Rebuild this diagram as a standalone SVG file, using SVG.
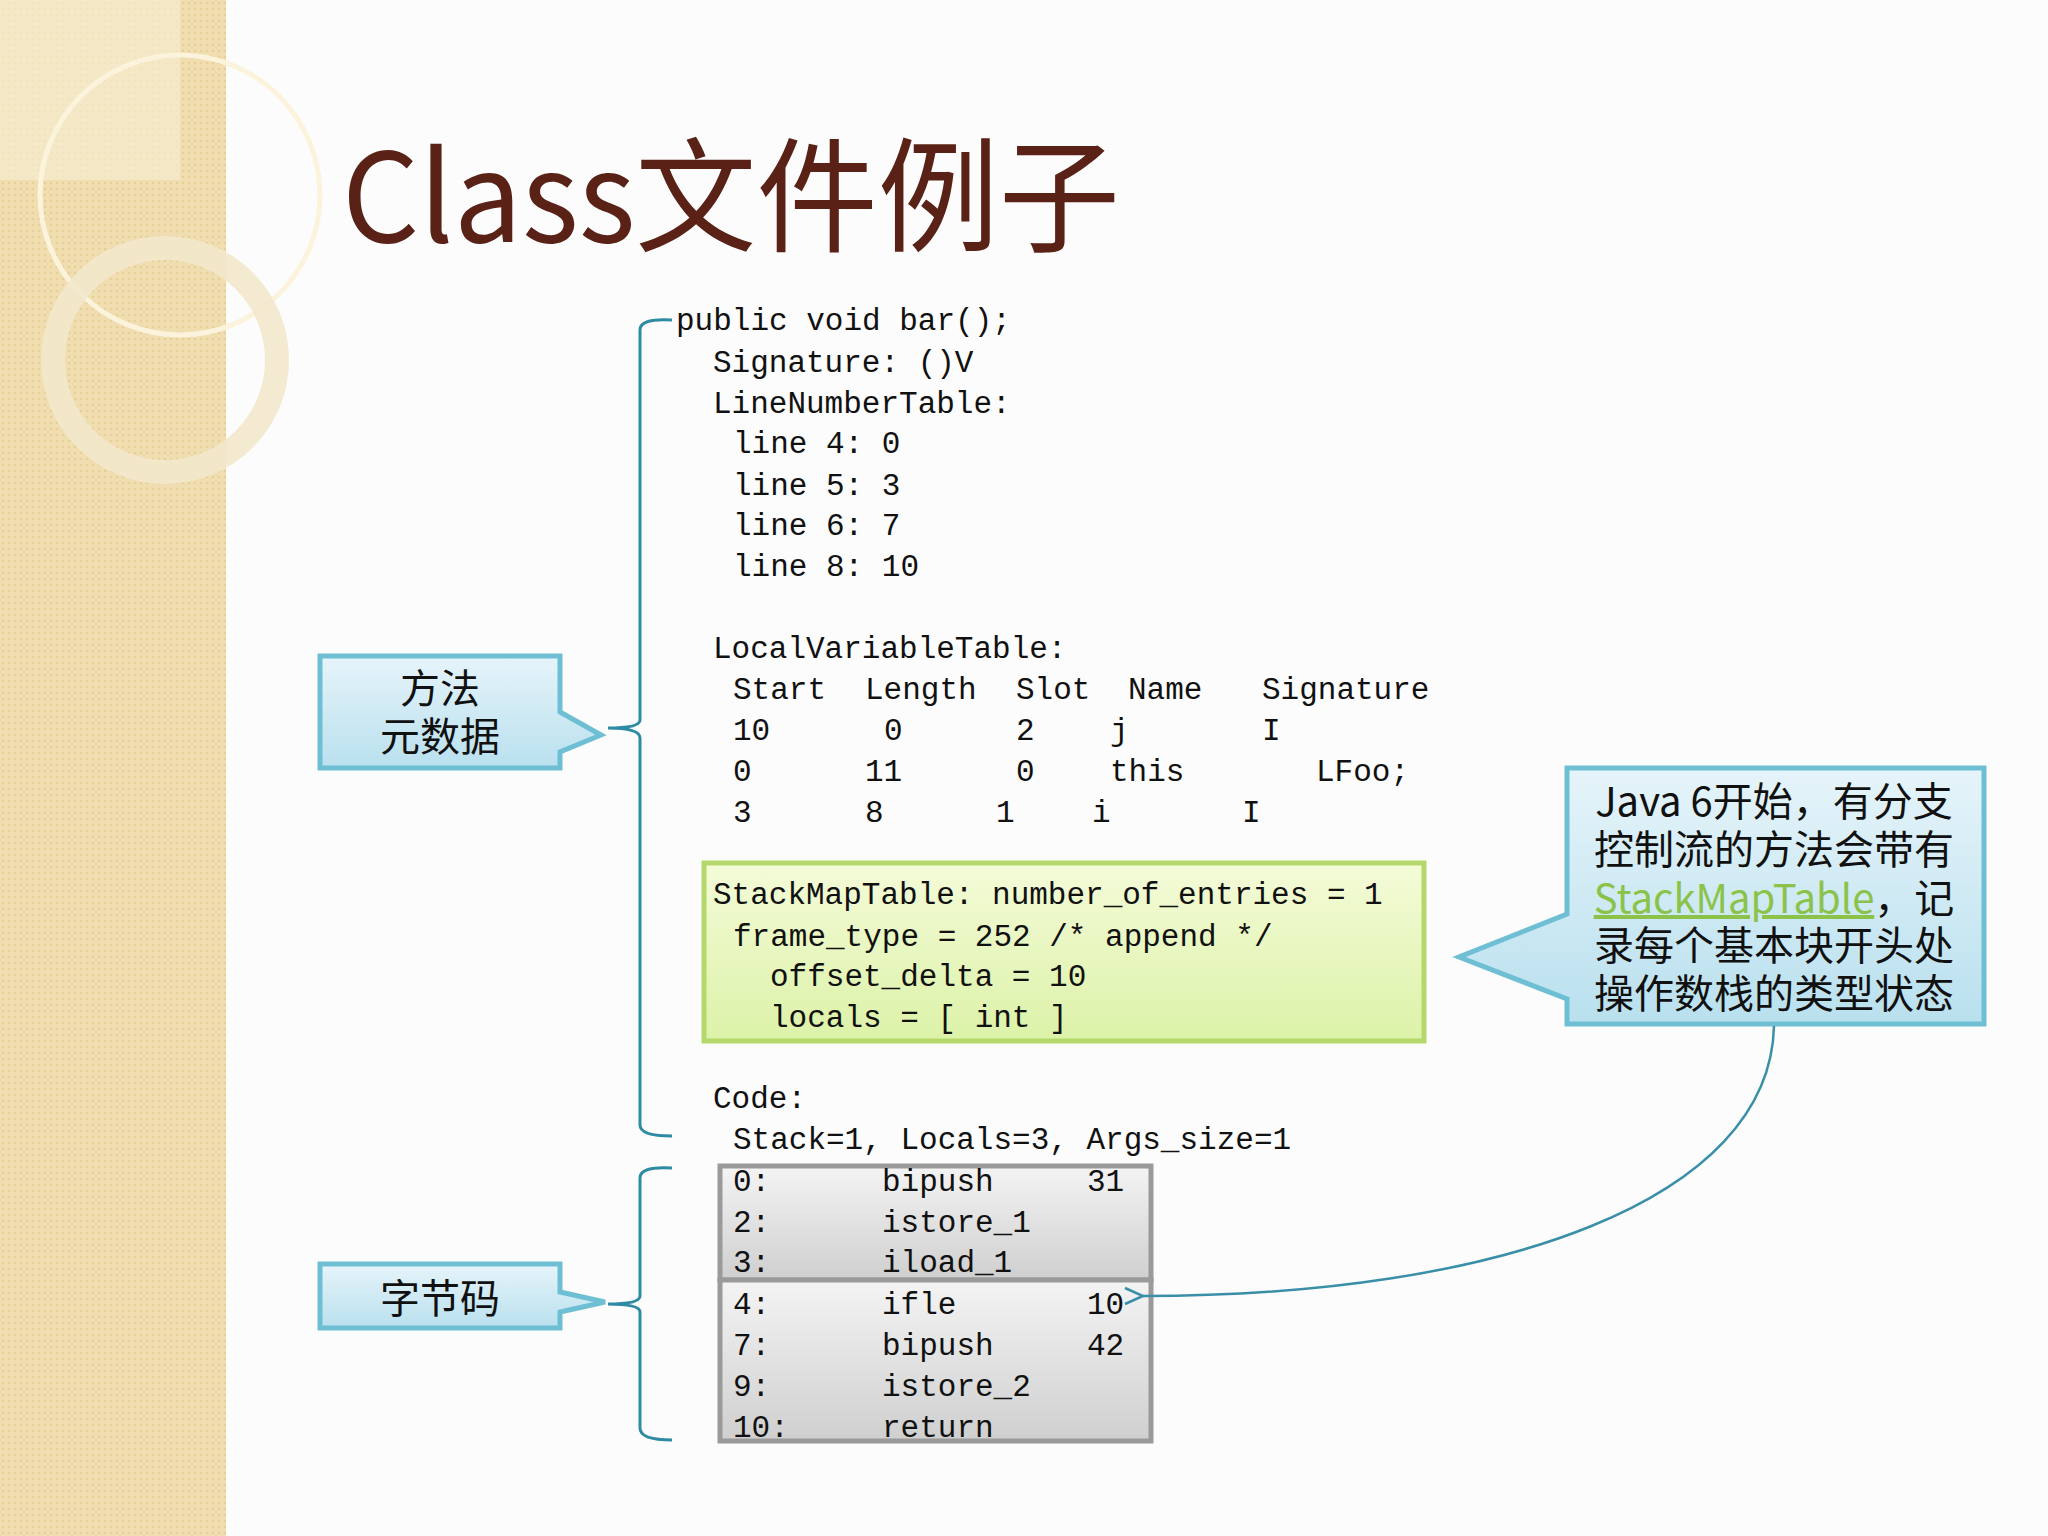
<svg xmlns="http://www.w3.org/2000/svg" width="2048" height="1536" viewBox="0 0 2048 1536">
<defs>
<pattern id="dots" width="6" height="6" patternUnits="userSpaceOnUse"><rect width="6" height="6" fill="#f1deb0"/><circle cx="3" cy="3" r="1.3" fill="#e6cf98"/></pattern>
<linearGradient id="blue" x1="0" y1="0" x2="0" y2="1"><stop offset="0" stop-color="#e6f4fa"/><stop offset="1" stop-color="#b9e0ee"/></linearGradient>
<linearGradient id="green" x1="0" y1="0" x2="0" y2="1"><stop offset="0" stop-color="#f4fbd8"/><stop offset="1" stop-color="#dcf2a8"/></linearGradient>
<linearGradient id="grey" x1="0" y1="0" x2="0" y2="1"><stop offset="0" stop-color="#f4f4f4"/><stop offset="1" stop-color="#cfcfcf"/></linearGradient>
<marker id="open" markerWidth="24" markerHeight="24" refX="2" refY="12" orient="auto" markerUnits="userSpaceOnUse"><path d="M20,4 L2,12 L20,20" fill="none" stroke="#3a8fa8" stroke-width="2.5"/></marker>
<style>
.code{font-family:"Liberation Mono","DejaVu Sans Mono",monospace;font-size:31px;fill:#111}
.cj{font-family:"Noto Sans CJK SC","Noto Sans",sans-serif;fill:#111}
.br{fill:none;stroke:#2f8ba4;stroke-width:3}
.call{fill:url(#blue);stroke:#6fbfd4;stroke-width:5}
</style>
</defs>
<rect width="2048" height="1536" fill="#fcfcfc"/>
<rect width="226" height="1536" fill="url(#dots)"/>
<rect x="0" y="0" width="180" height="180" fill="#f7ecd0" opacity="0.7"/>
<circle cx="180" cy="195" r="140" fill="none" stroke="#fbf3dc" stroke-width="5"/>
<circle cx="165" cy="360" r="112" fill="none" stroke="#f2e8cc" stroke-width="24" opacity="0.9"/>
<text x="342" y="242" font-family="'Noto Sans CJK SC','Noto Sans',sans-serif" font-size="124" fill="#5a2216" textLength="778" lengthAdjust="spacingAndGlyphs">Class文件例子</text>

<g id="green-box"><rect x="704" y="863" width="720" height="178" fill="url(#green)" stroke="#b4d96a" stroke-width="5"/></g>
<g id="grey-box1"><rect x="720" y="1166" width="431" height="114" fill="url(#grey)" stroke="#9a9a9a" stroke-width="5"/></g>
<g id="grey-box2"><rect x="720" y="1280" width="431" height="161" fill="url(#grey)" stroke="#9a9a9a" stroke-width="5"/></g>

<g id="code" class="code">
<text x="676" y="330">public void bar();</text>
<text x="713" y="372">Signature: ()V</text>
<text x="713" y="413">LineNumberTable:</text>
<text x="733" y="453">line 4: 0</text>
<text x="733" y="495">line 5: 3</text>
<text x="733" y="535">line 6: 7</text>
<text x="733" y="576">line 8: 10</text>
<text x="713" y="658">LocalVariableTable:</text>
<text y="699"><tspan x="733">Start</tspan><tspan x="865">Length</tspan><tspan x="1016">Slot</tspan><tspan x="1128">Name</tspan><tspan x="1262">Signature</tspan></text>
<text y="740"><tspan x="733">10</tspan><tspan x="884">0</tspan><tspan x="1016">2</tspan><tspan x="1110">j</tspan><tspan x="1262">I</tspan></text>
<text y="781"><tspan x="733">0</tspan><tspan x="865">11</tspan><tspan x="1016">0</tspan><tspan x="1110">this</tspan><tspan x="1316">LFoo;</tspan></text>
<text y="822"><tspan x="733">3</tspan><tspan x="865">8</tspan><tspan x="996">1</tspan><tspan x="1092">i</tspan><tspan x="1242">I</tspan></text>
<text x="713" y="904">StackMapTable: number_of_entries = 1</text>
<text x="733" y="946">frame_type = 252 /* append */</text>
<text x="770" y="986">offset_delta = 10</text>
<text x="770" y="1027">locals = [ int ]</text>
<text x="713" y="1108">Code:</text>
<text x="733" y="1149">Stack=1, Locals=3, Args_size=1</text>
<text y="1191"><tspan x="733">0:</tspan><tspan x="882">bipush</tspan><tspan x="1087">31</tspan></text>
<text y="1232"><tspan x="733">2:</tspan><tspan x="882">istore_1</tspan></text>
<text y="1272"><tspan x="733">3:</tspan><tspan x="882">iload_1</tspan></text>
<text y="1314"><tspan x="733">4:</tspan><tspan x="882">ifle</tspan><tspan x="1087">10</tspan></text>
<text y="1355"><tspan x="733">7:</tspan><tspan x="882">bipush</tspan><tspan x="1087">42</tspan></text>
<text y="1396"><tspan x="733">9:</tspan><tspan x="882">istore_2</tspan></text>
<text y="1437"><tspan x="733">10:</tspan><tspan x="882">return</tspan></text>
</g>

<g id="callout-meta"><path class="call" d="M320,656 H560 V712 L601,735 L560,752 V768 H320 Z"/>
<text class="cj" x="440" y="703" font-size="40" text-anchor="middle">方法</text>
<text class="cj" x="440" y="751" font-size="40" text-anchor="middle">元数据</text></g>
<g id="callout-bytecode"><path class="call" d="M320,1264 H560 V1292 L605,1302 L560,1312 V1328 H320 Z"/>
<text class="cj" x="440" y="1313" font-size="40" text-anchor="middle">字节码</text></g>
<g id="callout-note"><path class="call" d="M1567,768 H1984 V1024 H1567 V999 L1459,957 L1567,914 Z"/>
<g class="cj" font-size="40" text-anchor="middle">
<text x="1774" y="816">Java 6开始，有分支</text>
<text x="1774" y="864">控制流的方法会带有</text>
<text x="1774" y="913"><tspan fill="#8bc34a" text-decoration="underline">StackMapTable</tspan>，记</text>
<text x="1774" y="960">录每个基本块开头处</text>
<text x="1774" y="1008">操作数栈的类型状态</text>
</g></g>

<g id="connectors">
<path class="br" d="M672,320 Q640,318 640,330 V720 Q640,728 608,728 Q640,728 640,738 V1125 Q640,1136 672,1136"/>
<path class="br" d="M672,1168 Q640,1166 640,1178 V1296 Q640,1304 608,1304 Q640,1304 640,1312 V1428 Q640,1440 672,1440"/>
<path d="M1774,1026 C1770,1200 1500,1296 1143,1296" fill="none" stroke="#3a8fa8" stroke-width="2.5" marker-end="url(#open)"/>
</g>
</svg>
